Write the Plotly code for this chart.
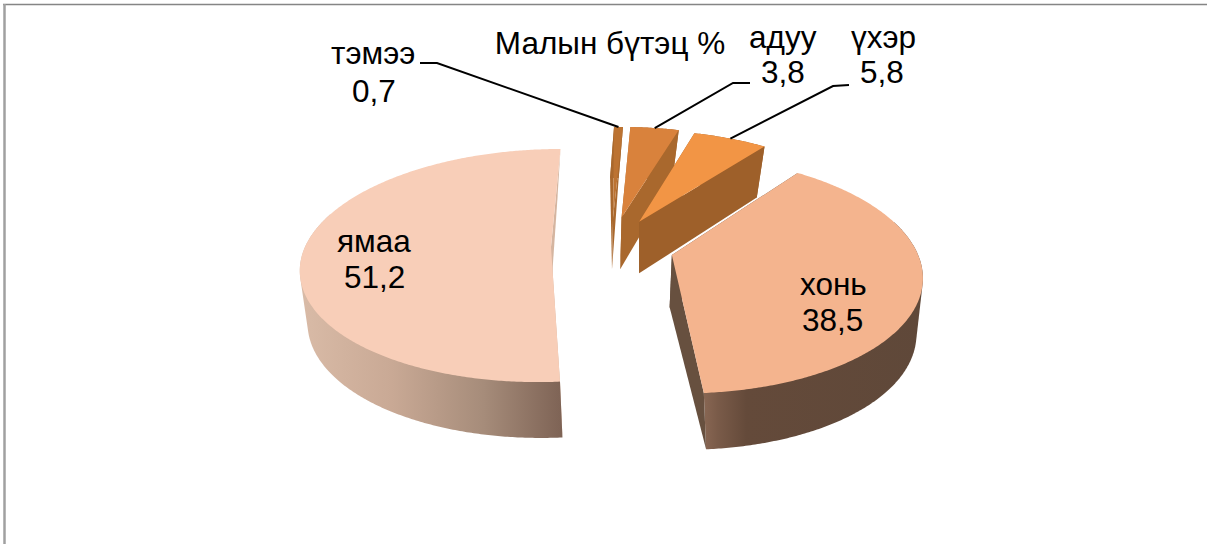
import numpy as np
import plotly.graph_objects as go

# ---- data ----
categories = ["тэмээ", "адуу", "үхэр", "хонь", "ямаа"]
values = [0.7, 3.8, 5.8, 38.5, 51.2]
title_text = "Малын бүтэц %"

# ---- styles / layout ----
W, H = 1207, 544
START_DEG = 0.0
TOP = dict(cx=551.0, cy=247.0, R=246.0, A=113.6, k=0.159, c=11.0)
BOT = dict(cx=550.5, cy=299.0, R=238.0, A=115.6, k=0.168, c=8.0)
explode = [(0.251, 0.27), (0.287, 0.27), (0.361, 0.231), (0.489, -0.07), (0.0, 0.0)]
bottom_dx = [0.01, 0.01, 0.018, 0.008, 0.0]
top_xscale = [1.0, 1.0, 1.0, 0.99, 1.0]
face_colors = ["#BC7332", "#D9823C", "#F29545", "#F4B48E", "#F8CEB8"]
edge_colors = ["#A9682D", "#A9682D", "#9E602A", "#67503F", "#D5B5A0"]
rim_gradients = [
    None, None, None,
    (702, 924, [[0, "#8A6854"], [0.07, "#7A5B49"], [0.2, "#644A3A"], [1, "#5F4839"]]),
    (300, 562, [[0, "#D9BBA7"], [0.35, "#C9A995"], [0.7, "#A68C7A"], [1, "#7E6355"]]),
]
rim_solid = ["#A9682D", "#A9682D", "#9E602A", None, None]
name_pos = [(373, 53), (783, 37), (883, 37), (833, 284), (374, 241)]
value_pos = [(374, 91), (783, 72), (882, 72), (832, 320), (374, 277)]
leader_elbows = [[(420, 63), (437, 63)], [(750, 83), (733, 83)], [(849, 85), (833, 86)]]
FONT = "Liberation Sans, Arial, sans-serif"
FS = 31.5


def project(X, Y, p):
    w = 1 + p["k"] * Y
    return p["cx"] + (p["R"] * X + p["c"] * Y) / w, p["cy"] - p["A"] * Y / w


def convex_hull(points):
    pts = sorted(set(points))

    def half(seq):
        out = []
        for q in seq:
            while len(out) > 1 and ((out[-1][0] - out[-2][0]) * (q[1] - out[-2][1])
                                    - (out[-1][1] - out[-2][1]) * (q[0] - out[-2][0])) <= 0:
                out.pop()
            out.append(q)
        return out[:-1]

    return half(pts) + half(pts[::-1])


fig = go.Figure()


def add_poly(pts, color=None, gradient=None):
    kw = dict(fillcolor=color)
    if gradient:
        kw = dict(fillgradient=dict(type="horizontal", start=gradient[0], stop=gradient[1],
                                    colorscale=gradient[2]))
    fig.add_trace(go.Scatter(x=[q[0] for q in pts] + [pts[0][0]], y=[q[1] for q in pts] + [pts[0][1]],
                             mode="lines", line=dict(width=0, simplify=False), fill="toself",
                             hoverinfo="skip", showlegend=False, **kw))


spans = np.cumsum([0] + values) / sum(values) * 360 + START_DEG
rim_mid = []
for i, name in enumerate(categories):
    a0, a1 = spans[i], spans[i + 1]
    ox, oy = explode[i]
    s = top_xscale[i]
    bx = ox + bottom_dx[i]
    th = np.radians(np.linspace(a0, a1, max(3, int(a1 - a0) * 2 + 1)))
    top_rim = [project(ox + s * np.sin(t), oy + np.cos(t), TOP) for t in th]
    bot_rim = [project(bx + np.sin(t), oy + np.cos(t), BOT) for t in th]
    apex_t = project(ox, oy, TOP)
    apex_b = project(bx, oy, BOT)
    # hidden start-edge wall, outer wall, visible end-edge wall, top face
    add_poly([apex_t, top_rim[0], bot_rim[0], apex_b], edge_colors[i])
    front = [j for j, t in enumerate(th) if np.cos(t) < 0.3]
    if front:
        add_poly(convex_hull([top_rim[j] for j in front] + [bot_rim[j] for j in front]),
                 rim_solid[i], rim_gradients[i])
    else:
        add_poly(top_rim + bot_rim[::-1], rim_solid[i], rim_gradients[i])
    add_poly([apex_t, top_rim[-1], bot_rim[-1], apex_b], edge_colors[i])
    add_poly([apex_t] + top_rim, face_colors[i])
    mid = np.radians((a0 + a1) / 2)
    rim_mid.append(project(ox + s * np.sin(mid), oy + np.cos(mid), TOP))

# leader lines for the three small slices
for elbow, end in zip(leader_elbows, rim_mid):
    pts = elbow + [end]
    fig.add_trace(go.Scatter(x=[q[0] for q in pts], y=[q[1] for q in pts], mode="lines",
                             line=dict(color="#000000", width=2), hoverinfo="skip", showlegend=False))

annotations = []
for name, v, p1, p2 in zip(categories, values, name_pos, value_pos):
    for txt, (x, y) in ((name, p1), (str(v).replace(".", ","), p2)):
        annotations.append(dict(x=x, y=y, xref="x", yref="y", showarrow=False, text=txt,
                                xanchor="center", yanchor="middle", align="center",
                                font=dict(family=FONT, size=FS, color="#000000")))

fig.update_layout(
    width=W, height=H, margin=dict(l=0, r=0, t=0, b=0),
    paper_bgcolor="#FFFFFF", plot_bgcolor="#FFFFFF", showlegend=False,
    title=dict(text=title_text, x=610 / W, y=1 - 43 / H, xref="paper", yref="paper",
               xanchor="center", yanchor="middle", font=dict(family=FONT, size=FS, color="#000000")),
    xaxis=dict(range=[0, W], visible=False, fixedrange=True),
    yaxis=dict(range=[H, 0], visible=False, fixedrange=True),
    annotations=annotations,
    shapes=[
        dict(type="line", xref="x", yref="y", x0=3, x1=W, y0=4.5, y1=4.5, line=dict(color="#858585", width=1.5)),
        dict(type="line", xref="x", yref="y", x0=4.5, x1=4.5, y0=4, y1=H, line=dict(color="#A0A0A0", width=2.5)),
    ],
)
fig.write_html("out.html", config=dict(displayModeBar=False),
               post_script="document.body.style.margin='0';document.body.style.overflow='hidden';")
